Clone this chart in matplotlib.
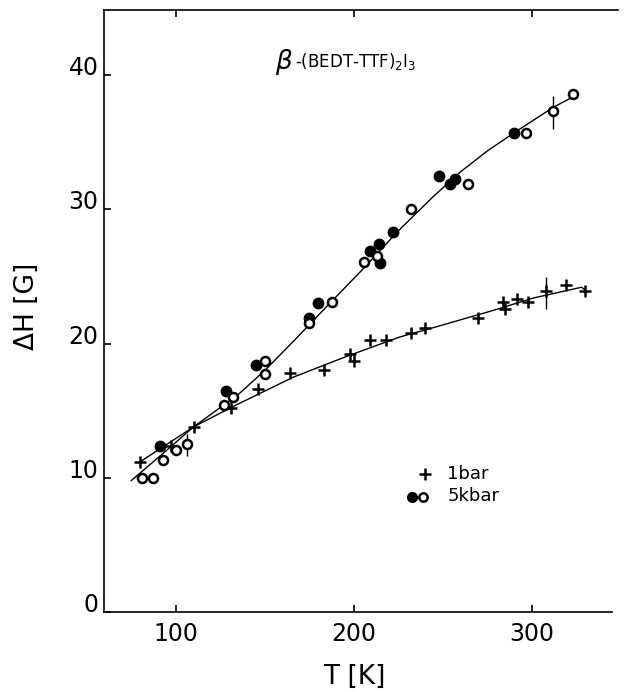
import matplotlib
matplotlib.use("Agg")
import matplotlib.pyplot as plt

# ---- data ----
T_1bar = [80, 97, 110, 131, 146, 164, 183, 198, 200, 209, 218, 232, 240, 270, 284, 285, 292, 298, 308, 319, 330]
H_1bar = [11.2, 12.4, 13.8, 15.2, 16.6, 17.8, 18.0, 19.2, 18.7, 20.3, 20.3, 20.8, 21.2, 21.9, 23.1, 22.6, 23.3, 23.1, 23.9, 24.4, 23.9]

T_5k_filled = [91, 128, 145, 175, 180, 209, 214, 215, 222, 248, 254, 257, 290]
H_5k_filled = [12.4, 16.5, 18.4, 21.9, 23.0, 26.9, 27.4, 26.0, 28.3, 32.5, 31.9, 32.3, 35.7]

T_5k_open = [81, 87, 93, 100, 106, 127, 132, 150, 150, 175, 188, 206, 213, 232, 264, 297, 312, 323]
H_5k_open = [10.0, 10.0, 11.3, 12.1, 12.5, 15.4, 16.0, 18.7, 17.7, 21.5, 23.1, 26.1, 26.5, 30.0, 31.9, 35.7, 37.3, 38.6]

err_T = [308, 312, 106]
err_lo = [22.6, 36.0, 11.6]
err_hi = [25.0, 38.45, 13.3]

fit5_T = [75, 90, 110, 135, 150, 167, 185, 204, 225, 245, 260, 275, 290, 312, 322]
fit5_H = [9.8, 11.5, 13.8, 16.2, 18.0, 20.3, 22.8, 25.4, 28.4, 31.0, 32.8, 34.35, 35.7, 37.6, 38.3]

fit1_T = [80, 110, 135, 166, 196, 226, 245, 279, 301, 328, 331]
fit1_H = [11.2, 13.8, 15.5, 17.5, 19.05, 20.5, 21.2, 22.5, 23.4, 24.2, 23.9]

x_ticks = [100, 200, 300]
y_ticks = [0, 10, 20, 30, 40]

plt.rcParams['font.family'] = ['DejaVu Sans']

fig = plt.figure(figsize=(6.26, 6.92), dpi=100)
ax = fig.add_axes([104/626, 80/692, 514/626, 602/692])

ax.plot(fit5_T, fit5_H, color='black', lw=1.0, zorder=2)
ax.plot(fit1_T, fit1_H, color='black', lw=1.0, zorder=2)
ax.vlines(err_T, err_lo, err_hi, color='black', lw=1.0, zorder=2)

ax.plot(T_1bar, H_1bar, linestyle='none', marker='+', ms=8, mew=1.8, color='black', zorder=3)
ax.plot(T_5k_filled, H_5k_filled, linestyle='none', marker='o', ms=7.5, color='black', zorder=3)
ax.plot(T_5k_open, H_5k_open, linestyle='none', marker='o', ms=6.5, mew=1.8,
        mfc='white', mec='black', zorder=3)

ax.set_xlim(59.6, 348.5)
ax.set_ylim(0, 44.86)

ax.spines['right'].set_visible(False)
for s in ['left', 'bottom', 'top']:
    ax.spines[s].set_linewidth(1.2)
ax.spines['bottom'].set_bounds(59.6, 345)

ax.set_xticks(x_ticks)
ax.set_xticklabels([str(v) for v in x_ticks])
ax.set_yticks(y_ticks)
ax.set_yticklabels([str(v) for v in y_ticks])
ax.tick_params(axis='x', direction='in', length=5, width=1.2, pad=7, labelsize=17, top=True)
ax.tick_params(axis='y', direction='in', length=5, width=1.2, pad=4, labelsize=17)
for lab in ax.get_yticklabels():
    lab.set_verticalalignment('baseline')

# title
ax.text(0.333, 0.914, r'$\beta$', transform=ax.transAxes, fontsize=19, ha='left', va='center')
ax.text(0.372, 0.914, r'-(BEDT-TTF)$_2$I$_3$', transform=ax.transAxes, fontsize=12,
        ha='left', va='center')

# legend
ax.plot([0.6245], [0.229], transform=ax.transAxes, marker='+', ms=8, mew=1.8, color='black',
        linestyle='none', clip_on=False)
ax.text(0.667, 0.229, '1bar', transform=ax.transAxes, fontsize=13, ha='left', va='center')
ax.plot([0.599], [0.191], transform=ax.transAxes, marker='o', ms=7, color='black',
        linestyle='none', clip_on=False)
ax.plot([0.6206], [0.191], transform=ax.transAxes, marker='o', ms=6, mew=1.8, mfc='white',
        mec='black', linestyle='none', clip_on=False)
ax.text(0.669, 0.193, '5kbar', transform=ax.transAxes, fontsize=13, ha='left', va='center')

# axis labels
fig.text(27/626, 1 - 306/692, 'ΔH [G]', rotation=90, ha='center', va='center', fontsize=19)
fig.text(354/626, 1 - 677/692, 'T [K]', ha='center', va='center', fontsize=19)

fig.savefig('out.png', dpi=100)
